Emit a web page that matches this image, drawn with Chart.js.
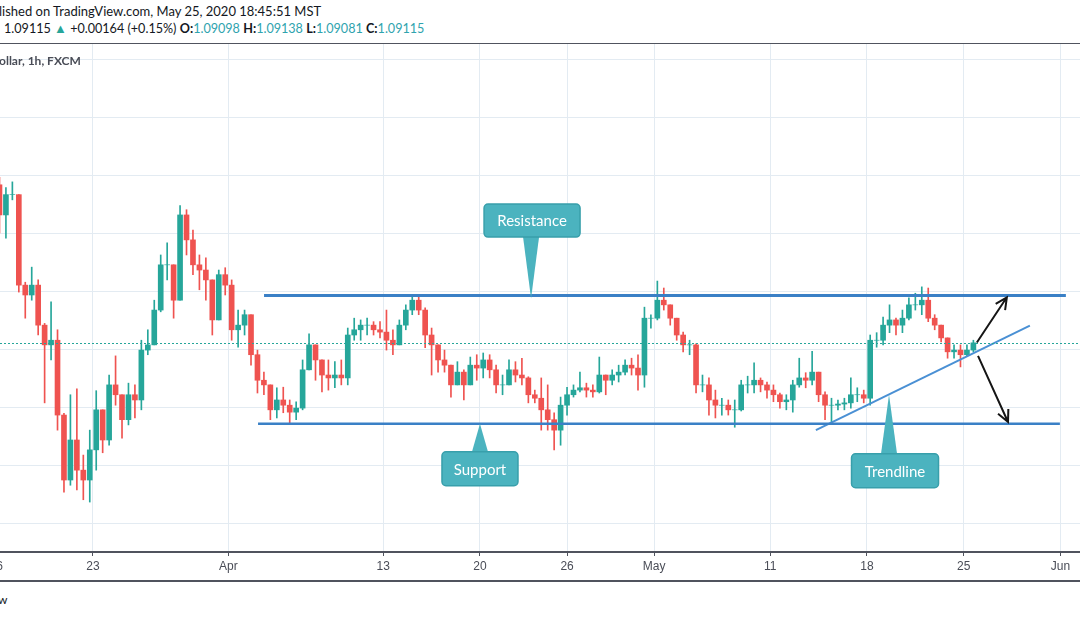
<!DOCTYPE html>
<html>
<head>
<meta charset="utf-8">
<script src="https://cdn.jsdelivr.net/npm/chart.js@4.4.0/dist/chart.umd.min.js"></script>
<style>
  html, body { margin: 0; padding: 0; background: #fff; }
  body { width: 1080px; height: 618px; overflow: hidden; position: relative; font-family: Lato, 'Open Sans', sans-serif; color: #131722; }
  .hdr { position: absolute; left: -1px; white-space: nowrap; font-size: 13px; }
  #l1 { top: 3px; }
  #l2 { top: 20px; left: 4px; font-size: 12.6px; }
  .v { color: #2fa3ae; }
  .up { color: #26a69a; font-size: 13px; }
  #sep { position: absolute; left: 0; top: 43px; width: 1080px; height: 1px; background: #50535e; }
  #sym { position: absolute; left: -1px; top: 53px; font-size: 12px; font-weight: bold; color: #4a4d57; white-space: nowrap; }
  #wrap { position: absolute; left: 0; top: 44px; width: 1080px; height: 537px; }
  #bot { position: absolute; left: 0; top: 580px; width: 1080px; height: 2px; background: #50535e; }
  #foot { position: absolute; left: -2px; top: 592px; font-size: 12px; }
</style>
</head>
<body>
<div class="hdr" id="l1">lished on TradingView.com, May 25, 2020 18:45:51 MST</div>
<div class="hdr" id="l2">1.09115 <span class="up">▲</span> +0.00164 (+0.15%) <b>O:</b><span class="v">1.09098</span> <b>H:</b><span class="v">1.09138</span> <b>L:</b><span class="v">1.09081</span> <b>C:</b><span class="v">1.09115</span></div>
<div id="sep"></div>
<div id="wrap"><canvas id="priceChart" width="1080" height="537"></canvas></div>
<div id="sym">ollar, 1h, FXCM</div>
<div id="bot"></div>
<div id="foot">w</div>
<script>
// 8-hour candles, 3 per trading day, first one starting Mar 16
const firstOpen = 1.1184;
const highs = [
  1.1197, 1.1179, 1.1189, 1.1167, 1.1016, 1.1042, 1.1020, 1.0945, 1.0982, 1.0934,
  1.0790, 1.0822, 1.0832, 1.0718, 1.0761, 1.0829, 1.0796, 1.0856, 1.0889, 1.0822,
  1.0842, 1.0839, 1.0916, 1.0934, 1.0985, 1.1063, 1.1084, 1.1046, 1.1148, 1.1141,
  1.1106, 1.1063, 1.1058, 1.1020, 1.1037, 1.1041, 1.1020, 1.0968, 1.0968, 1.0960,
  1.0899, 1.0861, 1.0839, 1.0834, 1.0835, 1.0813, 1.0810, 1.0882, 1.0927, 1.0908,
  1.0882, 1.0882, 1.0879, 1.0882, 1.0937, 1.0954, 1.0951, 1.0954, 1.0948, 1.0948,
  1.0968, 1.0934, 1.0951, 1.0977, 1.0991, 1.0991, 1.0972, 1.0937, 1.0908, 1.0899,
  1.0873, 1.0879, 1.0865, 1.0887, 1.0891, 1.0894, 1.0891, 1.0873, 1.0856, 1.0882,
  1.0879, 1.0885, 1.0853, 1.0830, 1.0851, 1.0839, 1.0791, 1.0818, 1.0835, 1.0839,
  1.0861, 1.0842, 1.0839, 1.0887, 1.0856, 1.0865, 1.0873, 1.0882, 1.0885, 1.0891,
  1.0973, 1.0960, 1.1018, 1.1006, 1.0977, 1.0954, 1.0930, 1.0916, 1.0910, 1.0856,
  1.0851, 1.0830, 1.0816, 1.0813, 1.0813, 1.0847, 1.0854, 1.0877, 1.0851, 1.0844,
  1.0839, 1.0825, 1.0822, 1.0847, 1.0885, 1.0860, 1.0897, 1.0861, 1.0827, 1.0816,
  1.0813, 1.0816, 1.0851, 1.0834, 1.0830, 1.0925, 1.0929, 1.0956, 1.0977, 1.0954,
  1.0968, 1.0989, 1.0997, 1.1008, 1.1006, 1.0960, 1.0942, 1.0920, 1.0908, 1.0908,
  1.0908, 1.0916
];
const lows = [
  1.1101, 1.1092, 1.1158, 1.0999, 1.0954, 1.0985, 1.0925, 1.0808, 1.0882, 1.0761,
  1.0654, 1.0666, 1.0658, 1.0641, 1.0637, 1.0692, 1.0722, 1.0735, 1.0804, 1.0747,
  1.0770, 1.0782, 1.0796, 1.0891, 1.0908, 1.0965, 1.1020, 1.0954, 1.0985, 1.1063,
  1.1029, 1.1003, 1.0985, 1.0925, 1.0951, 1.0994, 1.0916, 1.0904, 1.0925, 1.0873,
  1.0825, 1.0822, 1.0779, 1.0782, 1.0791, 1.0773, 1.0779, 1.0796, 1.0865, 1.0847,
  1.0827, 1.0830, 1.0834, 1.0839, 1.0839, 1.0916, 1.0916, 1.0925, 1.0925, 1.0920,
  1.0899, 1.0891, 1.0908, 1.0934, 1.0960, 1.0960, 1.0903, 1.0856, 1.0861, 1.0861,
  1.0818, 1.0839, 1.0813, 1.0839, 1.0847, 1.0851, 1.0851, 1.0825, 1.0822, 1.0839,
  1.0844, 1.0839, 1.0808, 1.0808, 1.0761, 1.0761, 1.0727, 1.0735, 1.0787, 1.0818,
  1.0827, 1.0818, 1.0818, 1.0825, 1.0822, 1.0839, 1.0844, 1.0856, 1.0856, 1.0830,
  1.0835, 1.0937, 1.0951, 1.0968, 1.0942, 1.0916, 1.0896, 1.0891, 1.0825, 1.0827,
  1.0787, 1.0782, 1.0787, 1.0787, 1.0766, 1.0794, 1.0825, 1.0825, 1.0827, 1.0816,
  1.0810, 1.0799, 1.0796, 1.0792, 1.0835, 1.0834, 1.0839, 1.0810, 1.0779, 1.0775,
  1.0796, 1.0796, 1.0799, 1.0810, 1.0808, 1.0804, 1.0904, 1.0908, 1.0929, 1.0925,
  1.0929, 1.0951, 1.0968, 1.0960, 1.0948, 1.0934, 1.0913, 1.0885, 1.0885, 1.0870,
  1.0889, 1.0896
];
const closes = [
  1.1132, 1.1167, 1.1167, 1.1011, 1.0994, 1.1011, 1.0942, 1.0908, 1.0916, 1.0787,
  1.0675, 1.0744, 1.0692, 1.0675, 1.0727, 1.0796, 1.0744, 1.0839, 1.0822, 1.0779,
  1.0822, 1.0813, 1.0899, 1.0908, 1.0968, 1.1046, 1.1046, 1.0985, 1.1132, 1.1089,
  1.1046, 1.1037, 1.1020, 1.0951, 1.1029, 1.1011, 1.0934, 1.0942, 1.0960, 1.0891,
  1.0847, 1.0839, 1.0796, 1.0813, 1.0804, 1.0792, 1.0799, 1.0865, 1.0908, 1.0882,
  1.0856, 1.0851, 1.0856, 1.0851, 1.0925, 1.0934, 1.0942, 1.0942, 1.0934, 1.0930,
  1.0916, 1.0908, 1.0942, 1.0968, 1.0985, 1.0968, 1.0925, 1.0908, 1.0882, 1.0873,
  1.0839, 1.0861, 1.0839, 1.0873, 1.0868, 1.0882, 1.0865, 1.0839, 1.0839, 1.0865,
  1.0856, 1.0851, 1.0822, 1.0816, 1.0796, 1.0779, 1.0761, 1.0804, 1.0822, 1.0830,
  1.0834, 1.0830, 1.0827, 1.0856, 1.0847, 1.0856, 1.0861, 1.0873, 1.0868, 1.0856,
  1.0954, 1.0954, 1.0985, 1.0977, 1.0954, 1.0925, 1.0908, 1.0908, 1.0839, 1.0839,
  1.0813, 1.0804, 1.0804, 1.0796, 1.0796, 1.0839, 1.0839, 1.0847, 1.0839, 1.0830,
  1.0822, 1.0810, 1.0813, 1.0839, 1.0851, 1.0847, 1.0861, 1.0822, 1.0804, 1.0804,
  1.0806, 1.0808, 1.0822, 1.0822, 1.0816, 1.0916, 1.0916, 1.0942, 1.0951, 1.0942,
  1.0954, 1.0977, 1.0977, 1.0985, 1.0954, 1.0942, 1.0920, 1.0896, 1.0899, 1.0891,
  1.0899, 1.09115
];
const candlesPerDay = 3;

// x axis: trading days since Mar 16
const tickDays = [0, 5, 12, 20, 25, 29.5, 34, 40, 45, 50, 55];
const tickLabels = ['16', '23', 'Apr', '13', '20', '26', 'May', '11', '18', '25', 'Jun'];
const priceLevels = [1.06, 1.07, 1.08, 1.09, 1.10, 1.11, 1.12, 1.13, 1.14];
const lastPrice = 1.09115;

// drawings
const resistance = [{ x: 13.84, y: 1.0993 }, { x: 55.28, y: 1.0993 }];
const support = [{ x: 13.53, y: 1.0772 }, { x: 54.97, y: 1.0772 }];
const trendline = [{ x: 42.36, y: 1.0761 }, { x: 53.42, y: 1.0941 }];
const arrows = [
  [{ x: 50.68, y: 1.0912 }, { x: 52.23, y: 1.0990 }],
  [{ x: 50.74, y: 1.0889 }, { x: 52.29, y: 1.0775 }]
];
const callouts = [
  { text: 'Resistance', x: 27.64, y: 1.0993, dx: 1, dy: -75, w: 96, h: 33 },
  { text: 'Support', x: 25.0, y: 1.0772, dx: 0, dy: 45, w: 76, h: 34 },
  { text: 'Trendline', x: 46.14, y: 1.0822, dx: 6, dy: 76, w: 87, h: 34 }
];

const UP = '#26a69a';
const DOWN = '#ef5350';
const opens = closes.map((c, i) => i === 0 ? firstOpen : closes[i - 1]);
const times = closes.map((c, i) => (i + 0.5) / candlesPerDay);
const colors = closes.map((c, i) => c >= opens[i] ? UP : DOWN);

const overlay = {
  id: 'overlay',
  afterDatasetsDraw(chart) {
    const c = chart.ctx, xs = chart.scales.x, ys = chart.scales.y, area = chart.chartArea;
    c.save();
    // last price line
    const py = Math.round(ys.getPixelForValue(lastPrice)) + 0.5;
    c.strokeStyle = UP;
    c.lineWidth = 1;
    c.setLineDash([2, 2]);
    c.beginPath();
    c.moveTo(area.left, py);
    c.lineTo(area.right, py);
    c.stroke();
    c.setLineDash([]);

    // arrows
    c.strokeStyle = '#151515';
    c.lineWidth = 2;
    arrows.forEach(([a, b]) => {
      const x1 = xs.getPixelForValue(a.x), y1 = ys.getPixelForValue(a.y);
      const x2 = xs.getPixelForValue(b.x), y2 = ys.getPixelForValue(b.y);
      const ang = Math.atan2(y2 - y1, x2 - x1);
      c.beginPath();
      c.moveTo(x1, y1);
      c.lineTo(x2, y2);
      c.moveTo(x2 - 13 * Math.cos(ang - 0.45), y2 - 13 * Math.sin(ang - 0.45));
      c.lineTo(x2, y2);
      c.lineTo(x2 - 13 * Math.cos(ang + 0.45), y2 - 13 * Math.sin(ang + 0.45));
      c.stroke();
    });

    // callouts
    callouts.forEach(co => {
      const ax = xs.getPixelForValue(co.x), ay = ys.getPixelForValue(co.y);
      const cx = ax + co.dx, cy = ay + co.dy;
      const left = cx - co.w / 2, top = cy - co.h / 2;
      const edgeY = co.dy < 0 ? top + co.h : top;
      c.fillStyle = '#4bb3bf';
      c.strokeStyle = '#389fab';
      c.lineWidth = 1.5;
      c.beginPath();
      c.moveTo(ax - 8, edgeY);
      c.lineTo(ax, ay + (co.dy < 0 ? 3 : 0));
      c.lineTo(ax + 8, edgeY);
      c.closePath();
      c.fill();
      c.beginPath();
      c.roundRect(left, top, co.w, co.h, 4);
      c.fill();
      c.stroke();
      c.fillStyle = '#fff';
      c.font = '15px Lato, "Open Sans", sans-serif';
      c.textAlign = 'center';
      c.textBaseline = 'middle';
      c.fillText(co.text, cx, cy + 1);
    });
    c.restore();
  }
};

const lineSet = (label, data, color, width) => ({
  type: 'line', label, data, borderColor: color, borderWidth: width,
  pointRadius: 0, fill: false, order: 0
});

new Chart(document.getElementById('priceChart'), {
  type: 'bar',
  data: {
    datasets: [
      lineSet('Resistance', resistance, '#3a80c6', 3),
      lineSet('Support', support, '#3a80c6', 2.5),
      lineSet('Trendline', trendline, '#4a90d4', 2),
      {
        label: 'wick',
        data: times.map((t, i) => ({ x: t, y: [lows[i], highs[i]] })),
        backgroundColor: colors,
        barThickness: 1,
        grouped: false,
        order: 2
      },
      {
        label: 'body',
        data: times.map((t, i) => ({ x: t, y: [opens[i], closes[i]] })),
        backgroundColor: colors,
        barThickness: 5,
        grouped: false,
        order: 1
      }
    ]
  },
  options: {
    responsive: false,
    animation: false,
    devicePixelRatio: 1,
    layout: { padding: 0, autoPadding: false },
    plugins: { legend: { display: false }, tooltip: { enabled: false } },
    scales: {
      x: {
        type: 'linear',
        min: 0.194,
        max: 56.01,
        offset: false,
        afterBuildTicks: axis => { axis.ticks = tickDays.map(v => ({ value: v })); },
        afterFit: axis => {
          axis.height = 29;
          axis.paddingLeft = 0;
          axis.paddingRight = 0;
        },
        grid: { color: '#e3ebf2', tickColor: '#50535e', tickLength: 4, offset: false },
        border: { display: true, color: '#50535e', width: 2 },
        ticks: {
          autoSkip: false,
          maxRotation: 0,
          padding: 3,
          color: '#4a4d57',
          font: { family: "'Liberation Sans Narrow', 'Liberation Sans', sans-serif", size: 12 },
          callback: (v, i) => tickLabels[i]
        }
      },
      y: {
        type: 'linear',
        position: 'right',
        min: 1.05509,
        max: 1.14267,
        afterBuildTicks: axis => { axis.ticks = priceLevels.map(v => ({ value: v })); },
        afterFit: axis => {
          axis.width = 0;
          axis.paddingTop = 0;
          axis.paddingBottom = 0;
        },
        grid: { color: '#e3ebf2', drawTicks: false },
        border: { display: false },
        ticks: { display: false }
      }
    }
  },
  plugins: [overlay]
});
</script>
</body>
</html>
